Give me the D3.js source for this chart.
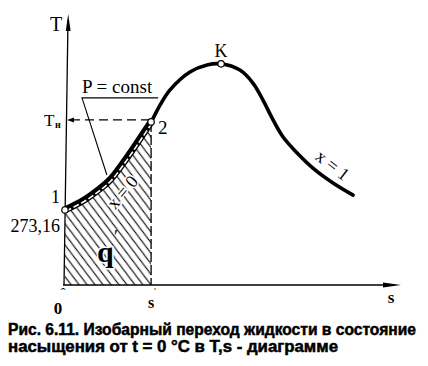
<!DOCTYPE html>
<html>
<head>
<meta charset="utf-8">
<script src="https://cdn.jsdelivr.net/npm/d3@7"></script>
<style>
  body { margin: 0; background: #fff; }
  svg { display: block; }
  .lbl { font-family: 'Liberation Serif', 'Times New Roman', serif; fill: #000; }
  .cap { font-family: 'Liberation Sans', Arial, sans-serif; font-weight: bold; font-size: 16px; fill: #000; stroke: #000; stroke-width: 0.5; }
</style>
</head>
<body>
<svg id="chart" width="428" height="366"></svg>
<script>
// saturation curve, x = 0 branch (from point 1 up to point 2) then on to K and x = 1
let liquidS = [0, 0.57, 0.99, 1.34, 1.76, 2.15, 2.57]
let liquidT = [2.78, 3.15, 3.52, 3.89, 4.56, 5.26, 6.04]
let upperS = [2.57, 2.84, 3.13, 3.73, 4.24, 4.66, 5.22, 5.61, 5.91, 6.18, 6.51, 6.93, 7.40, 8.0, 8.6]
let upperT = [6.04, 6.67, 7.22, 7.89, 8.15, 8.19, 7.96, 7.48, 6.85, 6.19, 5.48, 4.89, 4.33, 3.78, 3.33]

let point1 = { s: 0, T: 2.78, name: '1' }
let point2 = { s: 2.57, T: 6.04, name: '2' }
let pointK = { s: 4.66, T: 8.19, name: 'K' }

let captionLines = [
  'Рис. 6.11. Изобарный переход жидкости  в состояние',
  'насыщения  от t = 0 °С в T,s - диаграмме'
]

let svg = d3.select('#chart')

let x = d3.scaleLinear().domain([0, 10]).range([65, 400])
let y = d3.scaleLinear().domain([0, 10]).range([285, 15])

let liquid = liquidS.map((s, i) => [s, liquidT[i]])
let upper = upperS.map((s, i) => [s, upperT[i]])
let whole = liquid.concat(upper.slice(1))

let line = d3.line()
  .x(d => x(d[0]))
  .y(d => y(d[1]))
  .curve(d3.curveCatmullRom.alpha(0.5))

let defs = svg.append('defs')

defs.append('pattern')
    .attr('id', 'hatch')
    .attr('patternUnits', 'userSpaceOnUse')
    .attr('patternTransform', 'rotate(8)')
    .attr('width', 9)
    .attr('height', 9)
  .append('path')
    .attr('d', 'M0,0L9,9M-1,8L1,10M8,-1L10,1')
    .style('stroke', '#000')
    .style('stroke-width', 1.1)

// hatched area q' under the x = 0 branch
let area = d3.area()
  .x(d => x(d[0]))
  .y0(y(0))
  .y1(d => y(d[1]))
  .curve(d3.curveCatmullRom.alpha(0.5))

svg.append('path')
  .datum(liquid)
  .attr('d', area)
  .style('fill', 'url(#hatch)')

// axes
svg.append('line')
  .attr('x1', x(0) - 1).attr('y1', y(0))
  .attr('x2', x(0) + 3).attr('y2', 20)
  .style('stroke', '#000').style('stroke-width', 1.3)

svg.append('path')
  .attr('d', `M${x(0) + 3.2},14 L${x(0) + 5.6},31 L${x(0) + 0.8},31 Z`)
  .style('fill', '#000')

svg.append('line')
  .attr('x1', x(0) - 2).attr('y1', y(0))
  .attr('x2', 392).attr('y2', y(0))
  .style('stroke', '#000').style('stroke-width', 1.3)

svg.append('path')
  .attr('d', `M401,${y(0)} L383,${y(0) - 2.6} L383,${y(0) + 2.6} Z`)
  .style('fill', '#000')

// T_н level and s' line
svg.append('line')
  .attr('x1', x(0) + 6).attr('y1', y(point2.T) - 2)
  .attr('x2', x(point2.s)).attr('y2', y(point2.T) - 2)
  .style('stroke', '#000').style('stroke-width', 1.2)
  .style('stroke-dasharray', '9,5')

svg.append('path')
  .attr('d', `M${x(0) + 2},${y(point2.T) - 2} l7,-2.5 l0,5 Z`)
  .style('fill', '#000')

svg.append('line')
  .attr('x1', x(point2.s)).attr('y1', y(point2.T))
  .attr('x2', x(point2.s)).attr('y2', y(0))
  .style('stroke', '#000').style('stroke-width', 1.3)
  .style('stroke-dasharray', '10,3')

// saturation curve
svg.append('path')
  .datum(whole)
  .attr('d', line)
  .style('fill', 'none')
  .style('stroke', '#000')
  .style('stroke-width', 3.6)
  .style('stroke-linecap', 'round')

// double line on the x = 0 branch (P = const isobar running along it)
svg.append('path')
  .datum(liquid)
  .attr('d', line)
  .style('fill', 'none')
  .style('stroke', '#000')
  .style('stroke-width', 7)

svg.append('path')
  .datum(liquid)
  .attr('d', line)
  .attr('transform', 'translate(0.9,1.1)')
  .style('fill', 'none')
  .style('stroke', '#fff')
  .style('stroke-width', 1.6)
  .style('stroke-dasharray', '6,2.5')

// P = const leader
let leaderAt = liquid[3]
svg.append('path')
  .attr('d', `M${x(point2.s) + 7},${y(point2.T) - 24} H82 L${x(leaderAt[0]) - 3},${y(leaderAt[1]) - 5}`)
  .style('fill', 'none')
  .style('stroke', '#000')
  .style('stroke-width', 1.1)

// state points
svg.selectAll('circle.pt')
  .data([point1, point2, pointK])
  .enter().append('circle')
    .attr('class', 'pt')
    .attr('cx', d => x(d.s))
    .attr('cy', d => y(d.T))
    .attr('r', 3.2)
    .style('fill', '#fff')
    .style('stroke', '#000')
    .style('stroke-width', 1.2)

// labels
let label = (tx, ty, txt, size, opts = {}) => {
  let t = svg.append('text')
    .attr('class', 'lbl')
    .attr('x', tx)
    .attr('y', ty)
    .style('font-size', size + 'px')
    .text(txt)
  if (opts.anchor) t.attr('text-anchor', opts.anchor)
  if (opts.bold) t.style('font-weight', 'bold')
  if (opts.halo) t.style('stroke', '#fff').style('stroke-width', 3).style('paint-order', 'stroke')
  if (opts.rotate !== undefined) t.attr('transform', `rotate(${opts.rotate},${tx},${ty})`)
  return t
}

label(50, 31, 'T', 20)
label(44, 126, 'T', 17)
label(55, 128, 'н', 10, { bold: true })
label(x(point1.s) - 5, y(point1.T) - 7, '1', 18, { anchor: 'end' })
label(60, 232, '273,16', 18, { anchor: 'end' })
label(x(point2.s) + 7, y(point2.T) + 12, '2', 19)
label(x(pointK.s), y(pointK.T) - 7, 'K', 18, { anchor: 'middle' })
label(82, 93, 'P = const', 19)
label(127, 196, 'x = 0', 18, { anchor: 'middle', rotate: -50, halo: true })
label(329, 170, 'x = 1', 18, { anchor: 'middle', rotate: 38 })
label(97, 262, 'q', 30, { halo: true, bold: true })
label(114, 243, '\u2032', 18)
label(58, 314, '0', 17, { anchor: 'middle', bold: true })
label(63, 298, 'ˆ', 14, { anchor: 'middle' })
label(x(point2.s), 308, 's', 16, { anchor: 'middle', bold: true })
label(x(point2.s) + 4, 297, '\u02C8', 12, { anchor: 'middle', bold: true })
label(391, 303, 's', 17, { anchor: 'middle', bold: true })

// caption
svg.selectAll('text.cap')
  .data(captionLines)
  .enter().append('text')
    .attr('class', 'cap')
    .attr('x', 8)
    .attr('y', (d, i) => 335 + i * 17)
    .attr('textLength', (d, i) => i === 0 ? 408 : 330)
    .attr('lengthAdjust', 'spacingAndGlyphs')
    .text(d => d)
</script>
</body>
</html>
